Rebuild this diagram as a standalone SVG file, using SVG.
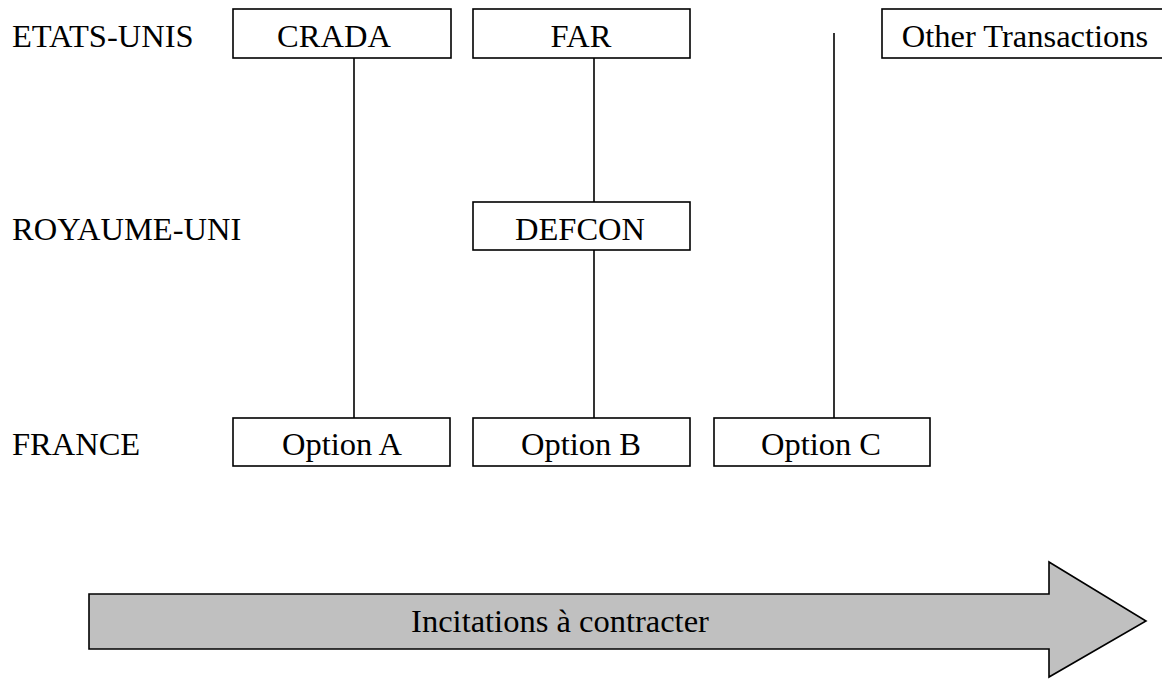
<svg xmlns="http://www.w3.org/2000/svg" width="1162" height="680" viewBox="0 0 1162 680">
<style>
.box{fill:#fff;stroke:#000;stroke-width:1.6}
.t{font-family:"Liberation Serif","Times New Roman",serif;font-size:32.5px;fill:#000}
.c{text-anchor:middle}
.ln{stroke:#000;stroke-width:1.6;fill:none}
</style>
<rect width="1162" height="680" fill="#fff"/>
<g id="row-labels">
<text class="t" x="12" y="47">ETATS-UNIS</text>
<text class="t" x="12" y="240">ROYAUME-UNI</text>
<text class="t" x="12" y="455">FRANCE</text>
</g>
<g id="connectors">
<line class="ln" x1="354" y1="58" x2="354" y2="418"/>
<line class="ln" x1="594" y1="58" x2="594" y2="202"/>
<line class="ln" x1="594" y1="250" x2="594" y2="418"/>
<line class="ln" x1="834" y1="33" x2="834" y2="418"/>
</g>
<g id="crada"><rect class="box" x="233" y="9" width="218" height="49"/><text class="t c" x="334" y="47">CRADA</text></g>
<g id="far"><rect class="box" x="473" y="9" width="217" height="49"/><text class="t c" x="581" y="47">FAR</text></g>
<g id="other"><rect class="box" x="882" y="9" width="290" height="49"/><text class="t c" x="1025" y="47">Other Transactions</text></g>
<g id="defcon"><rect class="box" x="473" y="202" width="217" height="48"/><text class="t c" x="580" y="240">DEFCON</text></g>
<g id="optA"><rect class="box" x="233" y="418" width="217" height="48"/><text class="t c" x="342" y="455">Option A</text></g>
<g id="optB"><rect class="box" x="473" y="418" width="217" height="48"/><text class="t c" x="581" y="455">Option B</text></g>
<g id="optC"><rect class="box" x="714" y="418" width="216" height="48"/><text class="t c" x="821" y="455">Option C</text></g>
<g id="arrow">
<path d="M89 594 H1049 V562 L1146 621 L1049 677 V649 H89 Z" fill="#c0c0c0" stroke="#000" stroke-width="1.6" stroke-linejoin="miter"/>
<text class="t c" x="560" y="632">Incitations à contracter</text>
</g>
</svg>
